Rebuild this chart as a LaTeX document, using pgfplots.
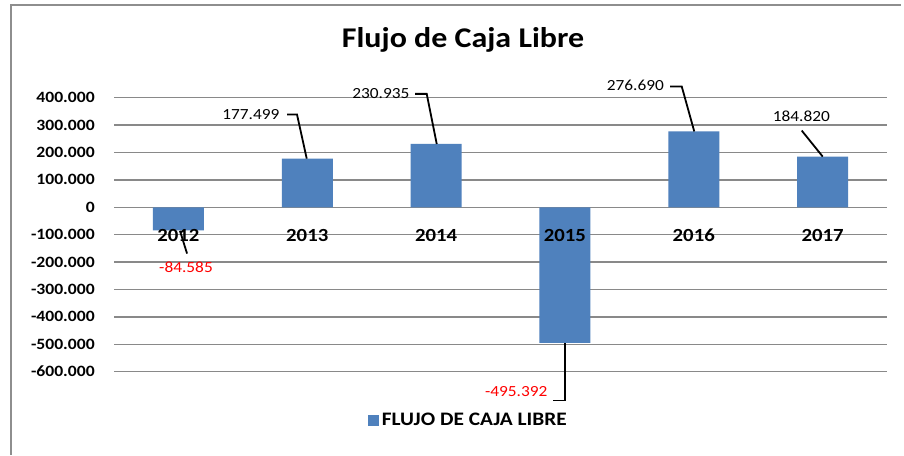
\documentclass[border=0pt]{standalone}
\usepackage{fontspec}
\setmainfont{Carlito}[FakeStretch=1.12]
\usepackage{pgfplots}
\pgfplotsset{compat=1.18}
\definecolor{barblue}{HTML}{4F81BD}
\definecolor{gridgray}{HTML}{898989}
\definecolor{framegray}{HTML}{8E8E8E}
\newcommand{\datafont}{\fontsize{11.6}{13}\selectfont}
\pgfplotsset{
  chartbox/.style={
    at={(85.5pt,62.5pt)}, anchor=south west,
    scale only axis, width=579.75pt, height=205.5pt,
    xmin=-0.5, xmax=5.5, ymin=-600000, ymax=400000,
    clip=false,
    axis line style={draw=none},
    major tick length=0pt,
    tick style={draw=none},
  },
}
\begin{document}
\begin{tikzpicture}
\fill[white] (0pt,0pt) rectangle (678pt,341.25pt);
\draw[framegray, line width=1.5pt] (8.25pt,0pt) -- (8.25pt,337.5pt) -- (675.75pt,337.5pt);
\begin{axis}[
  chartbox,
  ybar, bar width=38.25pt,
  ymajorgrids,
  grid style={gridgray, line width=1.1pt},
  scaled y ticks=false,
  ytick={-600000,-500000,-400000,-300000,-200000,-100000,0,100000,200000,300000,400000},
  yticklabels={-600.000,-500.000,-400.000,-300.000,-200.000,-100.000,0,100.000,200.000,300.000,400.000},
  yticklabel style={anchor=east, inner sep=0pt, xshift=-14.25pt, font=\bfseries\fontsize{11.8}{13}\selectfont},
  xtick=\empty,
  title={Flujo de Caja Libre},
  title style={at={(0.4515,1)}, anchor=base, yshift=31.3pt, font=\bfseries\fontsize{21.4}{24}\selectfont},
  legend style={at={(0.459,-0.178)}, anchor=center, draw=none, fill=none,
    font=\bfseries\fontsize{14.3}{16}\selectfont},
  legend image code/.code={\fill[barblue] (0pt,-4.1pt) rectangle (8.25pt,4.1pt);},
]
\addplot[fill=barblue, draw=none] coordinates {(0,-84585) (1,177499) (2,230935) (3,-495392) (4,276690) (5,184820)};
\addlegendentry{FLUJO DE CAJA LIBRE}
% leader lines
\draw[black, line width=1.35pt] (axis cs:0.012,-86000) -- (axis cs:0.067,-169000);
\draw[black, line width=1.35pt] (axis cs:0.843,338318) -- (axis cs:0.9206,338318) -- (axis cs:0.996,177499);
\draw[black, line width=1.35pt] (axis cs:1.8366,413865) -- (axis cs:1.9274,413865) -- (axis cs:2.005,230935);
\draw[black, line width=1.35pt] (axis cs:2.910,-705416) -- (axis cs:3.001,-705416) -- (axis cs:3.001,-495392);
\draw[black, line width=1.35pt] (axis cs:3.816,440512) -- (axis cs:3.907,440512) -- (axis cs:4.004,276690);
\draw[black, line width=1.35pt] (axis cs:4.838,279924) -- (axis cs:5.001,184820);
% data labels
\node[anchor=base, text=red, font=\datafont, inner sep=0pt] at (axis cs:0.059,-239400) {-84.585};
\node[anchor=base, font=\datafont, inner sep=0pt] at (axis cs:0.562,318975) {177.499};
\node[anchor=base, font=\datafont, inner sep=0pt] at (axis cs:1.571,395617) {230.935};
\node[anchor=base, text=red, font=\datafont, inner sep=0pt] at (axis cs:2.622,-690870) {-495.392};
\node[anchor=base, font=\datafont, inner sep=0pt] at (axis cs:3.547,425908) {276.690};
\node[anchor=base, font=\datafont, inner sep=0pt] at (axis cs:4.835,313866) {184.820};
\end{axis}
% category labels drawn on top of the bars
\begin{axis}[
  chartbox,
  ytick=\empty,
  xtick={0,1,2,3,4,5},
  xticklabels={2012,2013,2014,2015,2016,2017},
  xticklabel style={anchor=base, yshift=97.3pt, font=\bfseries\fontsize{13.9}{16}\selectfont},
]
\end{axis}
\end{tikzpicture}
\end{document}
